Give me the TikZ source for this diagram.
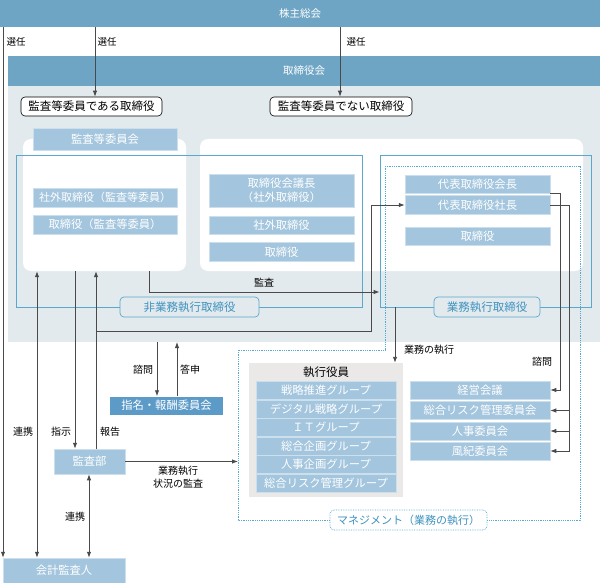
\documentclass[tikz,border=0pt]{standalone}
\usepackage{fontspec}
\setmainfont{Noto Sans CJK JP}
\usetikzlibrary{arrows.meta}
\definecolor{barblue}{HTML}{6FA5C4}
\definecolor{bgblue}{HTML}{E3EAEE}
\definecolor{boxblue}{HTML}{A3C5DD}
\definecolor{darkbox}{HTML}{5C9BC8}
\definecolor{frameblue}{HTML}{5AA8CC}
\definecolor{labblue}{HTML}{3E92BF}
\definecolor{linegray}{HTML}{4A4A4A}
\definecolor{execgray}{HTML}{EAE9E7}
\begin{document}
\begin{tikzpicture}[x=1pt,y=-1pt,
  bar/.style={fill=barblue,text=white,inner sep=0pt,font=\fontsize{10.5}{12}\selectfont},
  panel/.style={fill=white,rounded corners=8pt,inner sep=0pt},
  rbox/.style={draw=black,fill=white,rounded corners=4pt,line width=0.6pt,inner sep=0pt,font=\fontsize{11.5}{13}\selectfont},
  pbox/.style={fill=boxblue,draw=white!45!boxblue,line width=0.5pt,text=white,inner sep=0pt,align=center,font=\fontsize{11.3}{13.5}\selectfont},
  frm/.style={draw=frameblue,line width=0.7pt,inner sep=0pt},
  flab/.style={draw=frameblue,fill=bgblue,text=labblue,rounded corners=4pt,line width=0.7pt,inner sep=0pt,font=\fontsize{11.5}{13}\selectfont},
  lab/.style={inner sep=0pt,text=black,align=center,font=\fontsize{10}{13}\selectfont},
  conn/.style={draw=linegray,line width=0.9pt},
  arr/.style={conn,-{Latex[length=6pt,width=4.5pt]}},
  darr/.style={conn,{Latex[length=6pt,width=4.5pt]}-{Latex[length=6pt,width=4.5pt]}}
]
\useasboundingbox (0,0) rectangle (600,583);

% background region
\fill[bgblue] (8,86) rectangle (600,342);

% white panels
\node[panel,minimum width=163,minimum height=132] (pL) at (104.5,205) {};
\node[panel,minimum width=383,minimum height=132] (pR) at (391.5,205) {};

% bars
\node[bar,minimum width=600,minimum height=27] (kabu) at (300,13.5) {株主総会};
\node[bar,minimum width=592,minimum height=30] (tori) at (304,71) {取締役会};

% director type boxes
\node[rbox,minimum width=141,minimum height=19] (aud1) at (91.5,106.5) {監査等委員である取締役};
\node[rbox,minimum width=142,minimum height=19] (aud2) at (341,106.5) {監査等委員でない取締役};

% frames
\node[frm,minimum width=346,minimum height=152] (f1) at (189,231) {};
\node[frm,minimum width=211,minimum height=152] (f2) at (485.5,231) {};
\draw[frameblue,densely dotted,line width=0.8pt] (385,166) -- (580,166) -- (580,520) -- (238,520) -- (238,350) -- (385,350) -- cycle;

% committee
\node[pbox,minimum width=144,minimum height=22] (comm) at (105,139) {監査等委員会};
\node[pbox,minimum width=144,minimum height=19,font=\fontsize{11}{13}\selectfont] (b1) at (105,197.5) {社外取締役（監査等委員）};
\node[pbox,minimum width=144,minimum height=19] (b2) at (105,224.5) {取締役（監査等委員）};

\node[pbox,minimum width=145,minimum height=33] (m1) at (281.5,190.5) {取締役会議長\\（社外取締役）};
\node[pbox,minimum width=145,minimum height=18] (m2) at (281.5,225) {社外取締役};
\node[pbox,minimum width=145,minimum height=19] (m3) at (281.5,252) {取締役};

\node[pbox,minimum width=145,minimum height=18] (r1) at (477.5,184) {代表取締役会長};
\node[pbox,minimum width=145,minimum height=19] (r2) at (477.5,205) {代表取締役社長};
\node[pbox,minimum width=145,minimum height=18] (r3) at (477.5,236) {取締役};

% frame labels
\node[flab,minimum width=139,minimum height=20] (l1) at (189.5,307) {非業務執行取締役};
\node[flab,minimum width=106,minimum height=20] (l2) at (487,307) {業務執行取締役};
\node[flab,densely dotted,fill=white,minimum width=157,minimum height=20,font=\fontsize{11}{13}\selectfont] (l3) at (408.5,520) {マネジメント（業務の執行）};

% executive officers
\node[fill=execgray,inner sep=0pt,minimum width=154,minimum height=134] (exec) at (326,430) {};
\node[lab,font=\fontsize{11.5}{13}\selectfont] (execT) at (326,372) {執行役員};
\node[pbox,minimum width=140,minimum height=18] (e1) at (326,390) {戦略推進グループ};
\node[pbox,minimum width=140,minimum height=18] (e2) at (326,409) {デジタル戦略グループ};
\node[pbox,minimum width=140,minimum height=18] (e3) at (326,427.5) {ＩＴグループ};
\node[pbox,minimum width=140,minimum height=18] (e4) at (326,446) {総合企画グループ};
\node[pbox,minimum width=140,minimum height=18] (e5) at (326,464.5) {人事企画グループ};
\node[pbox,minimum width=140,minimum height=18] (e6) at (326,483) {総合リスク管理グループ};

% management committees
\node[pbox,minimum width=140,minimum height=18] (c1) at (480,390) {経営会議};
\node[pbox,minimum width=140,minimum height=18] (c2) at (480,410.5) {総合リスク管理委員会};
\node[pbox,minimum width=140,minimum height=18] (c3) at (480,431) {人事委員会};
\node[pbox,minimum width=140,minimum height=18] (c4) at (480,451) {風紀委員会};

% other boxes
\node[pbox,fill=darkbox,draw=none,minimum width=113,minimum height=18] (nom) at (166.5,405.5) {指名・報酬委員会};
\node[pbox,minimum width=71,minimum height=25] (kansa) at (89.5,461.5) {監査部};
\node[pbox,minimum width=122,minimum height=25] (kaikei) at (64,570.5) {会計監査人};

% helper coordinates
\coordinate (x3) at (3,0);
\coordinate (x37) at (37,0);
\coordinate (x75) at (75,0);
\coordinate (x89) at (89,0);
\coordinate (x95) at (95,0);
\coordinate (x96) at (96,0);
\coordinate (x149) at (149,0);
\coordinate (x157) at (157,0);
\coordinate (x177) at (177,0);
\coordinate (x340) at (340,0);
\coordinate (x395) at (395,0);
\coordinate (x569) at (569,0);
\coordinate (y292) at (0,292);
\coordinate (bgB) at (0,342);
\coordinate (hub) at (96,331);
\coordinate (bend) at (371,331);
\coordinate (dotL) at (238,461.5);

% connectors
\draw[arr] (x3 |- kabu.south) -- (x3 |- kaikei.north);
\draw[arr] (x95 |- kabu.south) -- (x95 |- aud1.north);
\draw[arr] (x340 |- kabu.south) -- (x340 |- aud2.north);
\draw[arr] (x149 |- pL.south) |- (f2.west |- y292);
\draw[darr] (x37 |- pL.south) -- (x37 |- kaikei.north);
\draw[arr] (x75 |- pL.south) -- (x75 |- kansa.north);
\draw[arr] (x96 |- kansa.north) -- (x96 |- pL.south);
\draw[arr] (hub) -- (bend) |- (r2.west);
\draw[darr] (x89 |- kansa.south) -- (x89 |- kaikei.north);
\draw[arr] (kansa.east) -- (dotL);
\draw[arr] (x157 |- bgB) -- (x157 |- nom.north);
\draw[arr] (x177 |- nom.north) -- (x177 |- bgB);
\draw[arr] (x395 |- f2.south) -- (x395 |- exec.north);
\draw[arr] (r1.south east) -- ++(10,0) |- (c1.east);
\draw[arr] (r2.east) -- ++(19,0) |- (c4.east);
\draw[arr] (x569 |- c2.east) -- (c2.east);
\draw[arr] (x569 |- c3.east) -- (c3.east);

% labels
\node[lab,font=\fontsize{9.5}{11}\selectfont] (t1) at (16,42) {選任};
\node[lab,font=\fontsize{9.5}{11}\selectfont] (t2) at (107,42) {選任};
\node[lab,font=\fontsize{9.5}{11}\selectfont] (t3) at (356,42) {選任};
\node[lab] (t4) at (264,283) {監査};
\node[lab] (t5) at (23,432) {連携};
\node[lab] (t6) at (61,432) {指示};
\node[lab] (t7) at (110,432) {報告};
\node[lab] (t8) at (75,517) {連携};
\node[lab] (t9) at (178,477) {業務執行\\状況の監査};
\node[lab] (t10) at (143,370) {諮問};
\node[lab] (t11) at (190,370) {答申};
\node[lab] (t12) at (429,350) {業務の執行};
\node[lab] (t13) at (542,362) {諮問};
\end{tikzpicture}
\end{document}
